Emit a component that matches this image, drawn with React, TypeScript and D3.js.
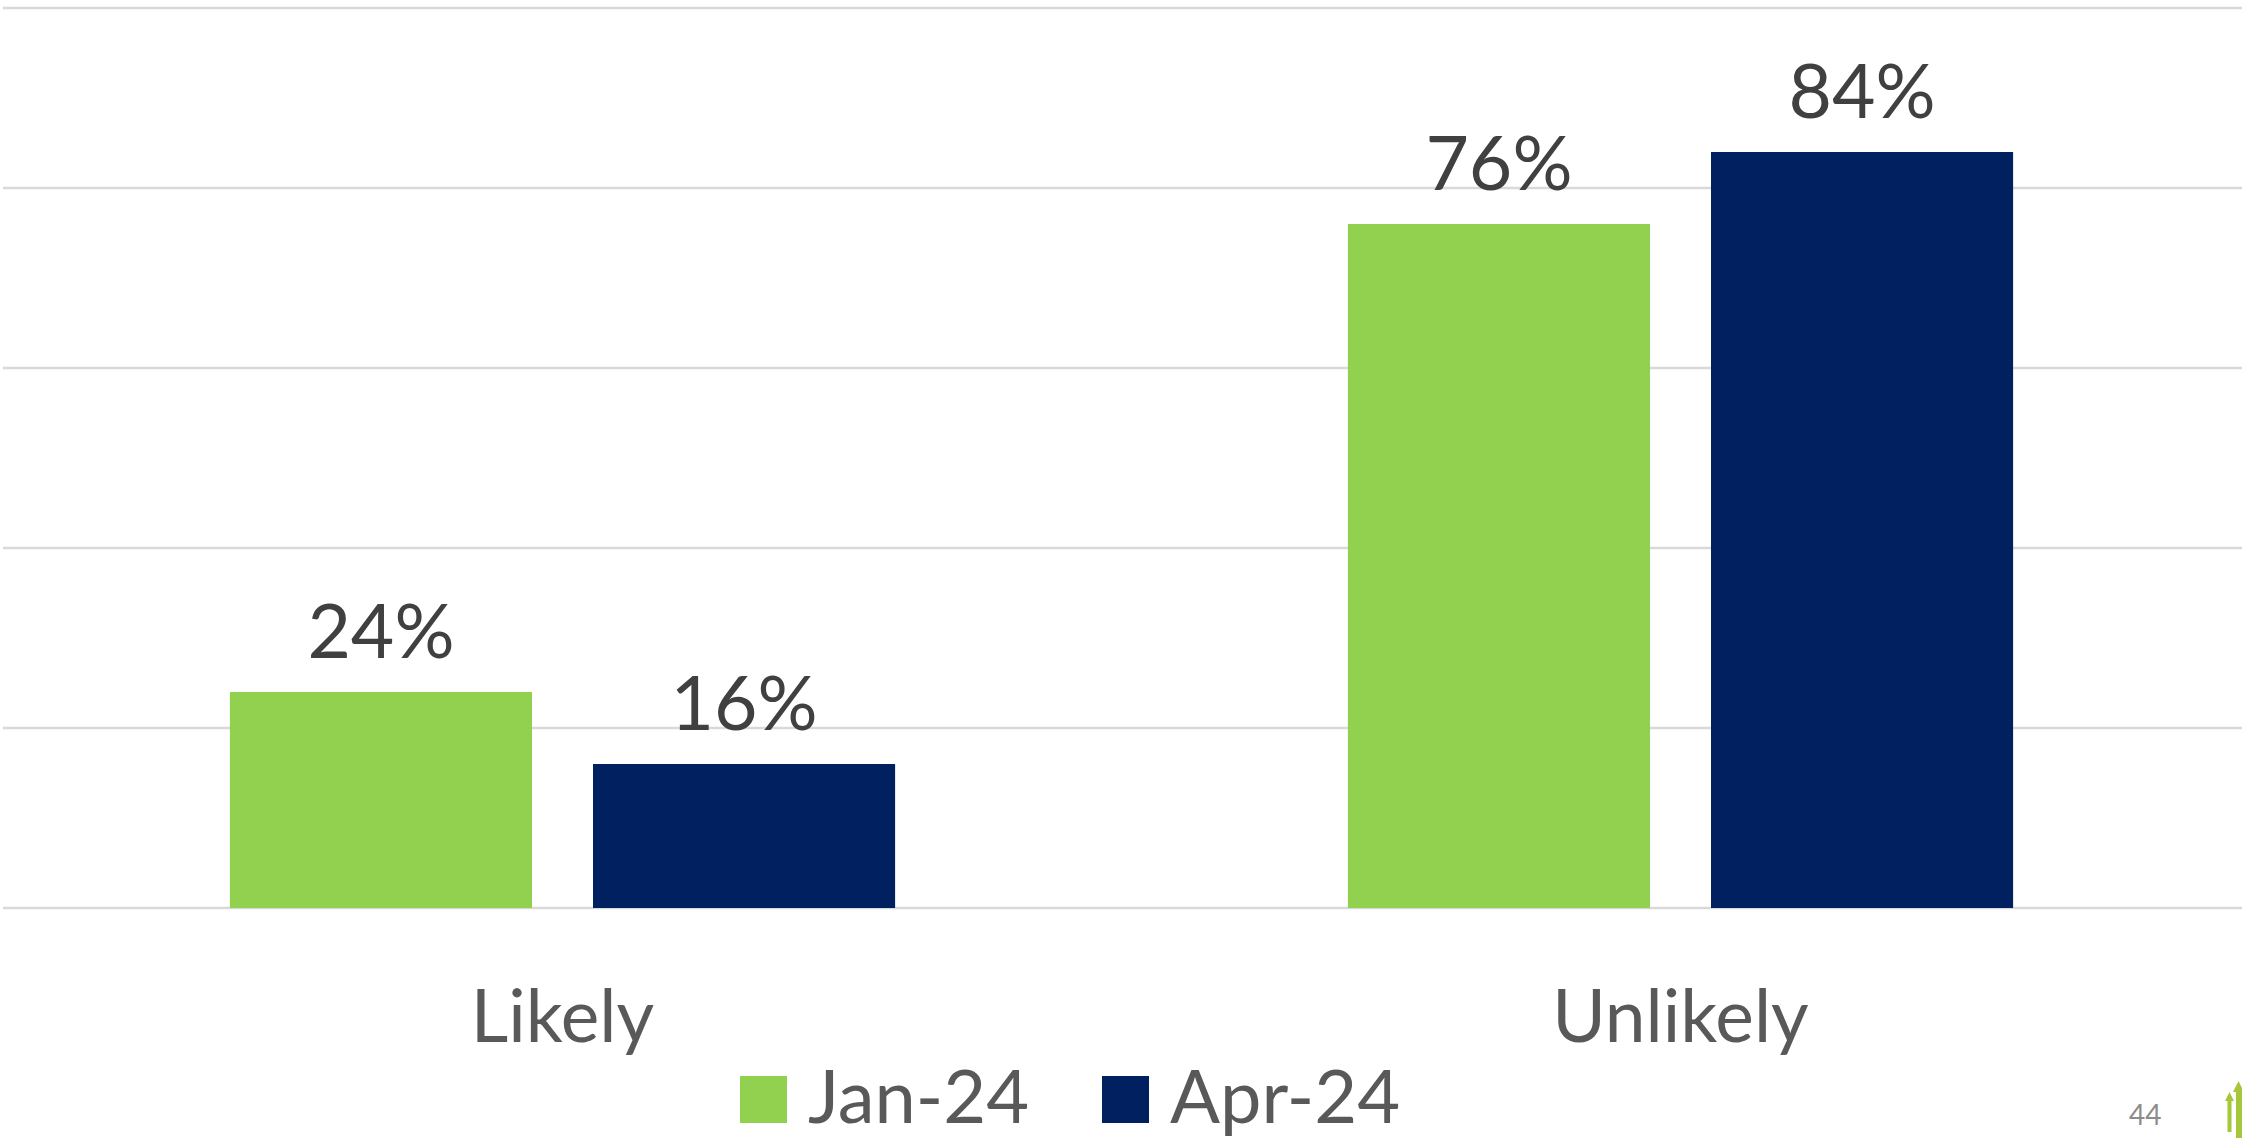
import React from "react";
import { scaleBand, scaleLinear } from "d3";

const categories = ["Likely", "Unlikely"];
const series = ["Jan-24", "Apr-24"];
const jan24 = [24, 76];
const apr24 = [16, 84];
const yTicks = [0, 20, 40, 60, 80, 100];
const pageNumber = "44";

const W = 2242;
const H = 1138;
const colors = ["#92d050", "#002060"];
const FONT = "Lato, 'Open Sans', sans-serif";

const App = () => {
  document.body.style.margin = "0";

  const values = [jan24, apr24];

  const y = scaleLinear().domain([0, 100]).range([908, 8]);

  // one band per category, the two bars share it
  const x0 = scaleBand()
    .domain(categories)
    .range([3.5, 2239.5])
    .paddingInner(0.405)
    .paddingOuter(0.2025);

  const x1 = scaleBand()
    .domain(series)
    .range([0, x0.bandwidth()])
    .paddingInner(0.168);

  return (
    <svg width={W} height={H} style={{ display: "block", background: "#fff" }}>
      {yTicks.map((t) => (
        <line key={t} x1={3} x2={W} y1={y(t)} y2={y(t)} stroke="#d9d9d9" strokeWidth={2.5} />
      ))}

      {categories.map((c, ci) => (
        <g key={c}>
          {series.map((s, si) => {
            const v = values[si][ci];
            const bx = x0(c) + x1(s);
            const cx = bx + x1.bandwidth() / 2;
            return (
              <g key={s}>
                <rect x={bx} y={y(v)} width={x1.bandwidth()} height={y(0) - y(v)} fill={colors[si]} />
                <text
                  x={cx}
                  y={y(v) - 34}
                  textAnchor="middle"
                  fontFamily={FONT}
                  fontSize={75}
                  fill="#404040"
                >
                  {v}%
                </text>
              </g>
            );
          })}
          <text
            x={x0(c) + x0.bandwidth() / 2}
            y={1042}
            textAnchor="middle"
            fontFamily={FONT}
            fontSize={73}
            fill="#595959"
          >
            {c}
          </text>
        </g>
      ))}

      {series.map((s, si) => {
        const lx = 740 + si * 362;
        return (
          <g key={s}>
            <rect x={lx} y={1076} width={47} height={47} fill={colors[si]} />
            <text x={lx + 68} y={1123} fontFamily={FONT} fontSize={74} fill="#595959">
              {s}
            </text>
          </g>
        );
      })}

      <text x={2129} y={1125} fontFamily={FONT} fontSize={28} fill="#8c8c8c">
        {pageNumber}
      </text>

      <g fill="#a6c73a">
        <path d="M2227.5,1132 L2227.5,1101 L2225,1101 L2229.5,1092 L2234,1101 L2231.5,1101 L2231.5,1132 Z" />
        <path d="M2236,1138 L2236,1092 L2233,1092 L2238.5,1081 L2242,1088 L2242,1138 Z" />
      </g>
    </svg>
  );
};

export default App;
